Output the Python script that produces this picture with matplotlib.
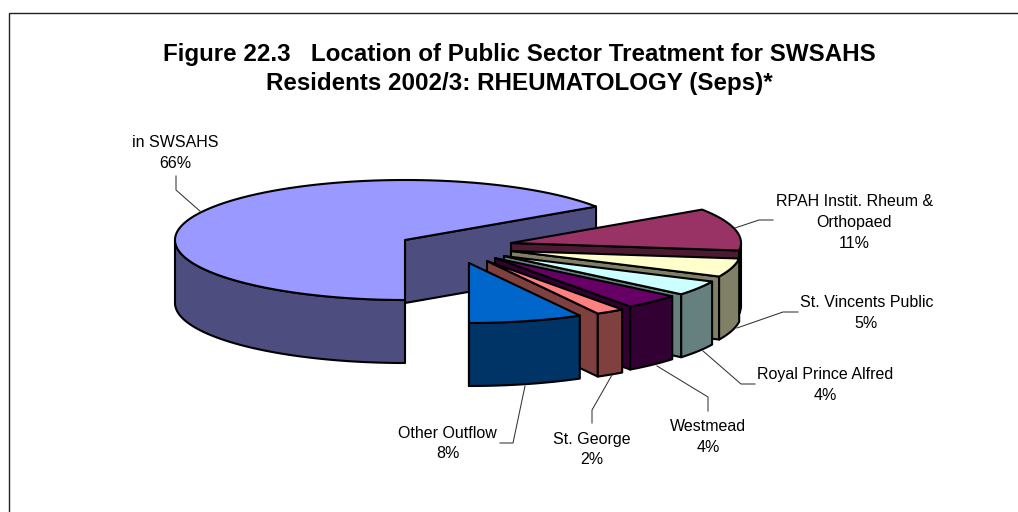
import numpy as np
import matplotlib
matplotlib.use("Agg")
import matplotlib.pyplot as plt

# Data
categories = ["in SWSAHS", "RPAH Instit. Rheum &\nOrthopaed", "St. Vincents Public",
              "Royal Prince Alfred", "Westmead", "St. George", "Other Outflow"]
values = [65.6, 11.4, 5, 4, 4, 2, 8]
title = "Figure 22.3   Location of Public Sector Treatment for SWSAHS\nResidents 2002/3: RHEUMATOLOGY (Seps)*"

# Styling (order follows categories)
top_colors = ["#9999FF", "#993366", "#FFFFCC", "#CCFFFF", "#660066", "#FF8080", "#0066CC"]
side_colors = ["#4D4D80", "#4D1A33", "#808066", "#668080", "#330033", "#804040", "#003366"]

# Layout, in pixels of the 1018x512 picture
apexes = [(405, 240), (511, 243), (511, 251), (504, 256), (495, 258), (487, 261), (469, 263)]
RX, RY, DEPTH = 230, 60, 63
label_pos = [(175.5, 167.5), (854.5, 247.5), (866.5, 327.5), (825, 399.5), (708, 451.5), (591.5, 464.5), (447.5, 458.5)]
leaders = [
    [(176, 176), (176, 190), (201, 212)],
    [(735, 228), (759, 220), (773, 220)],
    [(737, 328), (783, 312), (798, 312)],
    [(703, 351), (741, 384), (755, 384)],
    [(657, 366), (708, 397), (708, 411)],
    [(612, 375), (592, 410), (592, 423)],
    [(525, 386), (513, 443), (500, 443)],
]
LW = 1.5

plt.rcParams["font.family"] = ["Liberation Sans", "DejaVu Sans"]
fig = plt.figure(figsize=(10.18, 5.12), dpi=100, facecolor="white")
ax = fig.add_axes([0, 0, 1, 1])
ax.set_xlim(0, 1018)
ax.set_ylim(512, 0)
ax.axis("off")

# Chart frame: only its top and left edges fall inside the picture
ax.plot([9.5, 9.5, 1018], [512, 12.5, 12.5], color="#222222", lw=1.0, solid_joinstyle="miter")


def rim(cx, cy, a0, a1, dz=0):
    """Points on the ellipse between angles a0 and a1 (degrees, screen y down)."""
    n = max(2, int(abs(a1 - a0) * 2) + 1)
    t = np.radians(np.linspace(a0, a1, n))
    return cx + RX * np.cos(t), cy - RY * np.sin(t) + dz


def poly(x, y, color, z):
    ax.fill(x, y, facecolor=color, edgecolor="black", lw=LW, joinstyle="round", zorder=z)


# Slices run clockwise from straight down, painted back to front
shares = np.array(values, dtype=float) / sum(values) * 360
start = 270.0
for i, (share, (cx, cy)) in enumerate(zip(shares, apexes)):
    a0, a1 = start, start - share      # clockwise: a1 < a0
    z = 3 + i * 3
    # radial face on the clockwise end of the slice, which looks towards the viewer
    ex, ey = rim(cx, cy, a1, a1)
    poly([cx, ex[0], ex[0], cx], [cy, ey[0], ey[0] + DEPTH, cy + DEPTH], side_colors[i], z)
    # outer wall: only the part in the front half of the ellipse is seen
    lo, hi = (180.0, a0) if i == 0 else (a1, min(a0, 0.0))
    wx, wy = rim(cx, cy, lo, hi)
    bx, by = rim(cx, cy, hi, lo, DEPTH)
    poly(np.r_[wx, bx], np.r_[wy, by], side_colors[i], z + 1)
    # top face
    tx, ty = rim(cx, cy, a1, a0)
    poly(np.r_[cx, tx], np.r_[cy, ty], top_colors[i], z + 2)
    start = a1

# Leaders and labels
for name, v, pos, pts in zip(categories, values, label_pos, leaders):
    xs, ys = zip(*pts)
    ax.plot(xs, ys, color="#333333", lw=0.75, zorder=40)
    ax.text(pos[0], pos[1], f"{name}\n{v:.0f}%", ha="center", va="baseline", ma="center",
            fontsize=11.5, linespacing=1.48, color="black", zorder=41)

ax.text(519.5, 90, title, ha="center", va="baseline", ma="center", fontsize=17.35,
        fontweight="bold", linespacing=1.32, color="black", zorder=41)

fig.savefig("out.png", dpi=100, facecolor="white")
